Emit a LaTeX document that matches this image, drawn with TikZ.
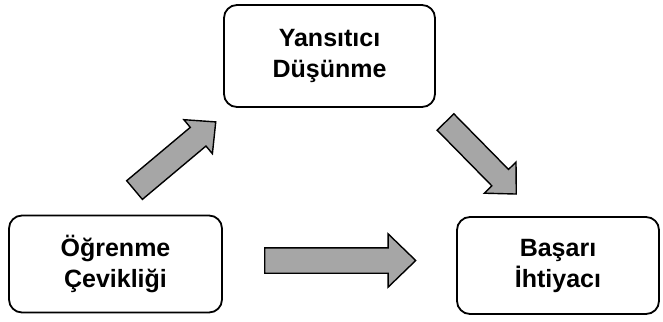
\documentclass[tikz,border=0pt]{standalone}
\usepackage{fontspec}
\setmainfont{Liberation Sans}
\usetikzlibrary{shapes.arrows}
\begin{document}
\begin{tikzpicture}[%
    x=1pt,y=-1pt,
    box/.style={rectangle,draw,line width=1.8pt,rounded corners=13pt,align=center,
      font=\fontsize{25}{31}\selectfont\bfseries,inner sep=0pt},
    blockarrow/.style={single arrow,draw,line width=1.4pt,fill=black!35,
      inner xsep=0pt,single arrow tip angle=88,anchor=tail}
  ]
		\useasboundingbox (0,0) rectangle (663,321);

		\node at (115.5,264) [box,minimum width=213pt,minimum height=97pt] (agility) {\"O\u{g}renme\\\c{C}evikli\u{g}i};
		\node at (329.5,56) [box,minimum width=211pt,minimum height=102pt] (reflect) {Yans\i t\i c\i\\D\"u\c{s}\"unme};
		\node at (558,265.5) [box,minimum width=202pt,minimum height=97pt] (need) {Ba\c{s}ar\i\\\.Ihtiyac\i};

		\node at (134,190.5) [blockarrow,rotate=40,minimum height=106pt,inner ysep=11.5pt,
			single arrow head extend=10pt] (up) {};
		\node at (264,260.5) [blockarrow,minimum height=151pt,inner ysep=12pt,
			single arrow head extend=14pt] (across) {};
		\node at (445,121.5) [blockarrow,rotate=-45.5,minimum height=101pt,inner ysep=11pt,
			single arrow head extend=10.5pt] (down) {};
	\end{tikzpicture}
\end{document}
